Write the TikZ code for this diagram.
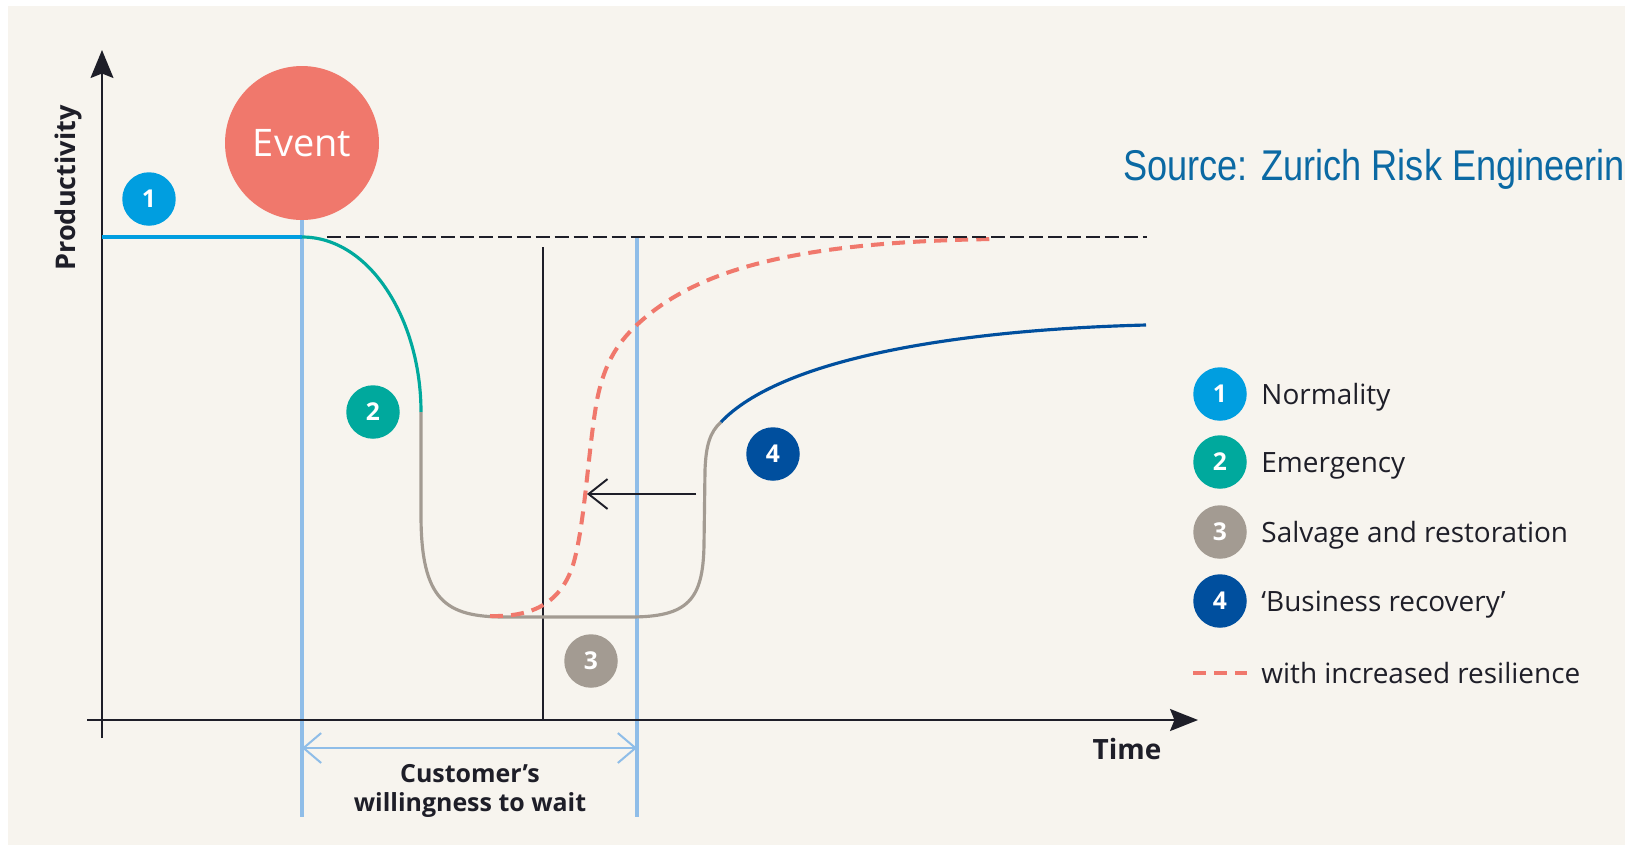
\documentclass[tikz,border=0pt]{standalone}
\usepackage{fontspec}
\setmainfont{Open Sans}
\newfontfamily\srcfont[FakeStretch=0.84]{Liberation Sans}
\usetikzlibrary{arrows.meta, positioning}
\definecolor{paper}{HTML}{F7F4EE}
\definecolor{normblue}{HTML}{009EE0}
\definecolor{emerteal}{HTML}{00A99D}
\definecolor{salvgrey}{HTML}{A39B92}
\definecolor{recovblue}{HTML}{004F9E}
\definecolor{eventred}{HTML}{F0786C}
\definecolor{waitblue}{HTML}{8FBDE8}
\definecolor{srcblue}{HTML}{0B69A3}
\definecolor{inkdark}{HTML}{1E1E28}
\tikzset{
  phase/.style={circle, fill=#1, text=white, minimum size=1.07cm, inner sep=0pt, font=\fontsize{14}{14}\selectfont\bfseries},
  legtext/.style={inner sep=0pt, text=inkdark, text height=11.4pt, text depth=0pt, font=\fontsize{15.9}{18}\selectfont},
  axis/.style={line width=1.3pt, draw=inkdark},
  curve/.style={line width=1.8pt},
  resil/.style={draw=eventred, line width=2.3pt, dash pattern=on 7.4pt off 4.6pt},
  waitline/.style={draw=waitblue, line width=1.9pt},
  barb/.tip={Straight Barb[length=10pt, width=17pt]},
}

\begin{document}
\begin{tikzpicture}[x=0.02cm, y=-0.02cm]
\useasboundingbox (0,0) rectangle (1625,846);
\clip (0,0) rectangle (1625,846);
\fill[white] (0,0) rectangle (1625,846);
\fill[paper] (8,6) rectangle (1625,845);

% event marker and the waiting window
\node[circle, fill=eventred, minimum size=3.08cm, text=white, font=\fontsize{21.6}{22}\selectfont] (event) at (302,143) {Event};
\coordinate (winstart) at (302,817);
\coordinate (winend) at (637,817);
\draw[waitline] (event.south) -- (winstart);
\draw[waitline] (637,237) -- (winend);
\draw[waitline, line width=1.15pt, barb-barb] (302,748) -- (637,748);
\node[align=center, text=inkdark, font=\fontsize{14.2}{16.5}\selectfont\bfseries] (waitlabel) at (470,791) {Customer’s\\willingness to wait};

% axes
\draw[axis, -{Stealth[length=15.9pt, width=13pt, inset=2.5pt]}] (102,738) -- (102,50);
\draw[axis, -{Stealth[length=15.9pt, width=12.5pt, inset=2.5pt]}] (87,720) -- (1198,720);
\node[rotate=90, text=inkdark, font=\fontsize{15.4}{16}\selectfont\bfseries] (ylabel) at (68,188) {Productivity};
\node[text=inkdark, font=\fontsize{15.9}{16}\selectfont\bfseries] (xlabel) at (1127,749) {Time};
\draw[inkdark, line width=1.1pt] (543,247) -- (543,720);

% productivity curve
\draw[curve, normblue, line width=2.3pt] (102,237) -- (302,237);
\draw[curve, emerteal] (302,237) .. controls (370,237) and (421,320) .. (421,412);
\draw[curve, salvgrey] (421,412) -- (421,515) .. controls (421,600) and (445,617) .. (505,617)
  -- (630,617) .. controls (688,617) and (703,600) .. (704,545) -- (705,470)
  .. controls (706,445) and (710,432) .. (721,422);
\draw[curve, recovblue] (721,422) .. controls (780,360) and (950,330) .. (1146,325);
\draw[resil] (490,616) .. controls (530,617) and (560,605) .. (573,565)
  .. controls (585,525) and (588,450) .. (597,400)
  .. controls (605,360) and (620,340) .. (640,322)
  .. controls (700,268) and (800,242) .. (993,239);
\draw[inkdark, line width=1.4pt, dash pattern=on 8pt off 2.8pt] (327,237) -- (1147,237);
\draw[inkdark, line width=1.1pt, -{Straight Barb[length=10.8pt, width=17pt]}] (696,494) -- (587,494);

\node[phase=normblue] (p1) at (149,199) {1};
\node[phase=emerteal] (p2) at (373,412) {2};
\node[phase=salvgrey] (p3) at (591,661) {3};
\node[phase=recovblue] (p4) at (773,454) {4};

% legend
\node[anchor=base west, inner sep=0pt, text=srcblue, font=\srcfont\fontsize{24.5}{26}\selectfont] (source) at (1123,180) {Source: Zurich Risk Engineering};
\node[phase=normblue] (l1) at (1220,394) {1};
\node[phase=emerteal] (l2) at (1220,462) {2};
\node[phase=salvgrey] (l3) at (1220,532) {3};
\node[phase=recovblue] (l4) at (1220,601) {4};
\node[legtext, right=0.28cm of l1] (t1) {Normality};
\node[legtext, right=0.28cm of l2] (t2) {Emergency};
\node[legtext, right=0.28cm of l3] (t3) {Salvage and restoration};
\node[legtext, right=0.28cm of l4] (t4) {‘Business recovery’};
\draw[resil] (1193,673) -- (1247,673) coordinate (l5);
\node[legtext, right=0.28cm of l5] (t5) {with increased resilience};
\end{tikzpicture}
\end{document}
